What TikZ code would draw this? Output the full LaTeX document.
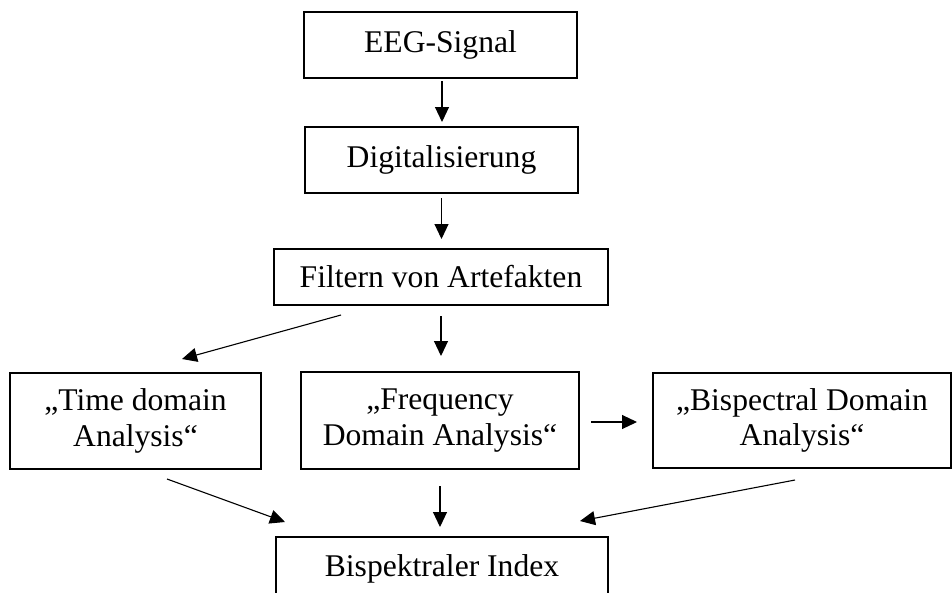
\documentclass[tikz,border=0pt]{standalone}
\usepackage{fontspec}
\setmainfont{Liberation Serif}
\usetikzlibrary{arrows.meta}
\begin{document}
\begin{tikzpicture}[x=1pt,y=-1pt,
  box/.style={draw, line width=2pt, inner sep=0pt, align=center,
    font=\fontsize{31.6}{35.5}\selectfont},
  arr/.style={line width=1.1pt, -{Triangle[length=15pt,width=14pt]}}]
\useasboundingbox (0,0) rectangle (952,592);
\node[box, minimum width=273pt, minimum height=66pt] (eeg) at (440.5,45) {EEG-Signal};
\node[box, minimum width=273pt, minimum height=66pt] (dig) at (441.5,160) {Digitalisierung};
\node[box, minimum width=334pt, minimum height=56pt] (filt) at (441,277) {Filtern von Artefakten};
\node[box, minimum width=251pt, minimum height=96pt] (time) at (135.5,421) {„Time domain\\Analysis“};
\node[box, minimum width=278pt, minimum height=97pt] (freq) at (440,420.5) {„Frequency\\Domain Analysis“};
\node[box, minimum width=298pt, minimum height=95pt] (bisp) at (802,420.5) {„Bispectral Domain\\Analysis“};
\node[box, minimum width=332pt, minimum height=64pt] (index) at (442,569) {Bispektraler Index};

\draw[arr, shorten <=2pt, shorten >=4pt] ([xshift=1.5pt]eeg.south) -- ([xshift=0.5pt]dig.north);
\draw[arr, shorten <=4pt, shorten >=9pt] (dig.south) -- (dig.south |- filt.north);
\draw[arr, shorten <=10pt, shorten >=15pt] (filt.south) -- (filt.south |- freq.north);
\draw[arr, shorten <=16pt, shorten >=9pt] (freq.south) -- (freq.south |- index.north);
\draw[arr, shorten <=11pt, shorten >=15pt] ([yshift=-1.5pt]freq.east) -- ([yshift=-1.5pt]bisp.west);

\coordinate (ft1) at ([xshift=-100pt,yshift=-9pt]filt.south);
\coordinate (ft2) at ([xshift=46.5pt,yshift=13pt]time.north);
\draw[arr] (ft1) -- (ft2);
\coordinate (ti1) at ([xshift=31.5pt,yshift=-9pt]time.south);
\coordinate (ti2) at ([xshift=-157pt,yshift=14pt]index.north);
\draw[arr] (ti1) -- (ti2);
\coordinate (bi1) at ([xshift=-7pt,yshift=-11pt]bisp.south);
\coordinate (bi2) at ([xshift=138pt,yshift=15pt]index.north);
\draw[arr] (bi1) -- (bi2);
\end{tikzpicture}
\end{document}
